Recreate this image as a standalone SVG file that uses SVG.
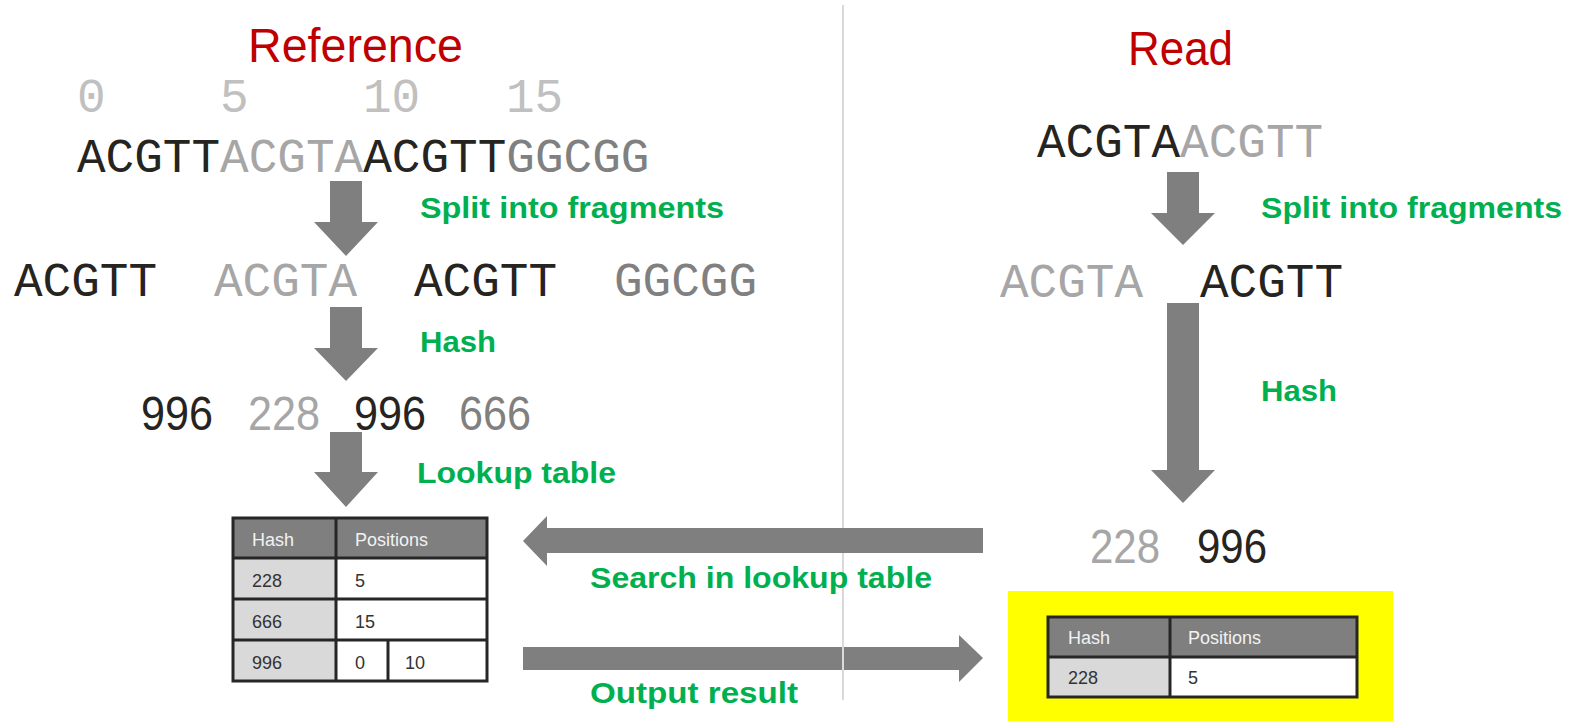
<svg xmlns="http://www.w3.org/2000/svg" width="1570" height="723" viewBox="0 0 1570 723">
<style>
.title{font-family:"Liberation Sans",Arial,sans-serif;font-size:48px;fill:#c00000}
.mono{font-family:"Liberation Mono","Courier New",monospace;font-size:47.7px}
.num{font-family:"Liberation Sans",Arial,sans-serif;font-size:48px}
.lbl{font-family:"Liberation Sans",Arial,sans-serif;font-size:30px;font-weight:bold;fill:#00b050}
.tt{font-family:"Liberation Sans",Arial,sans-serif;font-size:18px;fill:#333333}
.th{font-family:"Liberation Sans",Arial,sans-serif;font-size:18px;fill:#f2f2f2}
.dk{fill:#262420}.lt{fill:#a6a6a6}.md{fill:#808080}.idx{fill:#c0c0c0}
.arrow{fill:#7f7f7f}
.hdr{fill:#7f7f7f}.c1{fill:#d9d9d9}.c2{fill:#ffffff}
.grid{stroke:#262626;stroke-width:3;fill:none}
</style>
<line x1="843" y1="5" x2="843" y2="700" stroke="#d9d9d9" stroke-width="2"/>
<g id="ref-title"><text class="title" x="248" y="62" textLength="215" lengthAdjust="spacingAndGlyphs">Reference</text></g>
<g id="read-title"><text class="title" x="1128" y="65" textLength="105" lengthAdjust="spacingAndGlyphs">Read</text></g>
<g id="ref-index" class="mono idx">
<text x="77" y="112">0</text><text x="220" y="112">5</text><text x="363" y="112">10</text><text x="506" y="112">15</text>
</g>
<g id="ref-seq" class="mono"><text x="77" y="172"><tspan class="dk">ACGTT</tspan><tspan class="lt">ACGTA</tspan><tspan class="dk">ACGTT</tspan><tspan class="md">GGCGG</tspan></text></g>
<g id="ref-frags" class="mono">
<text class="dk" x="14" y="296">ACGTT</text><text class="lt" x="214" y="296">ACGTA</text><text class="dk" x="414" y="296">ACGTT</text><text class="md" x="614" y="296">GGCGG</text>
</g>
<g id="ref-hashes" class="num">
<text class="dk" x="141" y="430" textLength="72" lengthAdjust="spacingAndGlyphs">996</text>
<text class="lt" x="248" y="430" textLength="72" lengthAdjust="spacingAndGlyphs">228</text>
<text class="dk" x="354" y="430" textLength="72" lengthAdjust="spacingAndGlyphs">996</text>
<text class="md" x="459" y="430" textLength="72" lengthAdjust="spacingAndGlyphs">666</text>
</g>
<g id="ref-table">
<rect class="hdr" x="233" y="518" width="254" height="40"/>
<rect class="c1" x="233" y="558" width="103" height="123"/>
<rect class="c2" x="336" y="558" width="151" height="123"/>
<rect class="grid" x="233" y="518" width="254" height="163"/>
<path class="grid" d="M336 518V681M233 558H487M233 599H487M233 640H487M388 640V681"/>
<text class="th" x="252" y="546">Hash</text><text class="th" x="355" y="546">Positions</text>
<text class="tt" x="252" y="587">228</text><text class="tt" x="355" y="587">5</text>
<text class="tt" x="252" y="628">666</text><text class="tt" x="355" y="628">15</text>
<text class="tt" x="252" y="669">996</text><text class="tt" x="355" y="669">0</text><text class="tt" x="405" y="669">10</text>
</g>
<g id="read-seq" class="mono"><text x="1037" y="157"><tspan class="dk">ACGTA</tspan><tspan class="lt">ACGTT</tspan></text></g>
<g id="read-frags" class="mono"><text class="lt" x="1000" y="297">ACGTA</text><text class="dk" x="1200" y="297">ACGTT</text></g>
<g id="read-hashes" class="num">
<text class="lt" x="1090" y="563" textLength="70" lengthAdjust="spacingAndGlyphs">228</text>
<text class="dk" x="1197" y="563" textLength="70" lengthAdjust="spacingAndGlyphs">996</text>
</g>
<g id="result-table">
<rect x="1008" y="591" width="385" height="130" fill="#ffff00"/>
<rect class="hdr" x="1048" y="617" width="309" height="40"/>
<rect class="c1" x="1048" y="657" width="122" height="40"/>
<rect class="c2" x="1170" y="657" width="187" height="40"/>
<rect class="grid" x="1048" y="617" width="309" height="80"/>
<path class="grid" d="M1170 617V697M1048 657H1357"/>
<text class="th" x="1068" y="644">Hash</text><text class="th" x="1188" y="644">Positions</text>
<text class="tt" x="1068" y="684">228</text><text class="tt" x="1188" y="684">5</text>
</g>
<g id="connectors">
<polygon class="arrow" points="330,181 362,181 362,222 378,222 346,256 314,222 330,222"/>
<polygon class="arrow" points="330,307 362,307 362,348 378,348 346,381 314,348 330,348"/>
<polygon class="arrow" points="330,432 362,432 362,472 378,472 346,507 314,472 330,472"/>
<polygon class="arrow" points="1167,172 1199,172 1199,213 1215,213 1183,245 1151,213 1167,213"/>
<polygon class="arrow" points="1167,303 1199,303 1199,470 1215,470 1183,503 1151,470 1167,470"/>
<polygon class="arrow" points="983,528 983,553 547,553 547,566 523,541 547,516 547,528"/>
<polygon class="arrow" points="523,647 959,647 959,635 983,658 959,682 959,670 523,670"/>
<line x1="843" y1="640" x2="843" y2="677" stroke="#d9d9d9" stroke-width="2"/>
</g>
<g id="labels">
<text class="lbl" x="420" y="218" textLength="304" lengthAdjust="spacingAndGlyphs">Split into fragments</text>
<text class="lbl" x="420" y="352" textLength="76" lengthAdjust="spacingAndGlyphs">Hash</text>
<text class="lbl" x="417" y="483" textLength="199" lengthAdjust="spacingAndGlyphs">Lookup table</text>
<text class="lbl" x="1261" y="218" textLength="301" lengthAdjust="spacingAndGlyphs">Split into fragments</text>
<text class="lbl" x="1261" y="401" textLength="76" lengthAdjust="spacingAndGlyphs">Hash</text>
<text class="lbl" x="590" y="588" textLength="342" lengthAdjust="spacingAndGlyphs">Search in lookup table</text>
<text class="lbl" x="590" y="703" textLength="208" lengthAdjust="spacingAndGlyphs">Output result</text>
</g>
</svg>
